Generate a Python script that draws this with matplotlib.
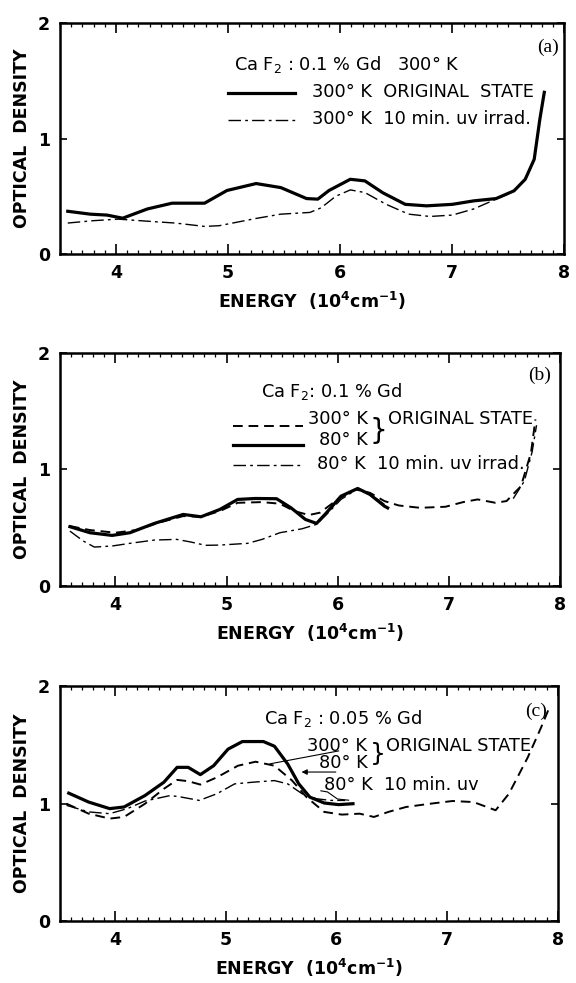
import matplotlib
matplotlib.use("Agg")
from matplotlib import pyplot as plt
from matplotlib.ticker import MultipleLocator

# panel (a): CaF2 0.1% Gd, 300 K
a_x_orig = [3.57, 3.77, 3.92, 4.06, 4.28, 4.5, 4.79, 4.99, 5.25, 5.47, 5.70, 5.80, 5.90,
            6.09, 6.22, 6.38, 6.58, 6.77, 7.0, 7.19, 7.39, 7.55, 7.65, 7.73, 7.78, 7.82]
a_y_orig = [0.37, 0.345, 0.337, 0.31, 0.39, 0.44, 0.44, 0.55, 0.61, 0.575, 0.48, 0.475, 0.55,
            0.647, 0.633, 0.53, 0.43, 0.417, 0.43, 0.46, 0.48, 0.547, 0.647, 0.82, 1.165, 1.40]
a_x_uv = [3.57, 3.79, 4.02, 4.34, 4.53, 4.79, 4.92, 5.25, 5.47, 5.73, 5.83, 5.96, 6.09,
          6.22, 6.41, 6.61, 6.80, 7.0, 7.19, 7.39, 7.5]
a_y_uv = [0.268, 0.288, 0.302, 0.28, 0.268, 0.239, 0.245, 0.308, 0.345, 0.36, 0.40, 0.50, 0.555,
          0.532, 0.43, 0.345, 0.325, 0.337, 0.39, 0.475, 0.52]

# panel (b): CaF2 0.1% Gd
b_x_300 = [3.59, 3.77, 4.0, 4.19, 4.39, 4.61, 4.77, 4.94, 5.10, 5.32, 5.48, 5.61, 5.74, 5.84,
           6.0, 6.16, 6.29, 6.42, 6.55, 6.74, 6.97, 7.13, 7.26, 7.42, 7.52, 7.65, 7.74, 7.78]
b_y_300 = [0.514, 0.48, 0.457, 0.48, 0.543, 0.6, 0.594, 0.643, 0.714, 0.72, 0.706, 0.643, 0.609, 0.629,
           0.743, 0.829, 0.8, 0.729, 0.691, 0.671, 0.68, 0.72, 0.743, 0.714, 0.729, 0.857, 1.143, 1.43]
b_x_80 = [3.59, 3.77, 3.97, 4.13, 4.35, 4.61, 4.77, 4.94, 5.10, 5.26, 5.45, 5.58, 5.71, 5.81,
          5.90, 6.03, 6.18, 6.29, 6.42, 6.45]
b_y_80 = [0.509, 0.457, 0.434, 0.457, 0.537, 0.614, 0.594, 0.657, 0.743, 0.751, 0.749, 0.671, 0.571, 0.537,
          0.629, 0.771, 0.837, 0.786, 0.686, 0.67]
b_x_uv = [3.59, 3.71, 3.81, 3.97, 4.13, 4.35, 4.55, 4.68, 4.81, 4.94, 5.19, 5.32, 5.48, 5.68,
          5.81, 5.90, 6.03, 6.18, 6.32, 6.42]
b_y_uv = [0.471, 0.386, 0.334, 0.343, 0.366, 0.394, 0.4, 0.377, 0.349, 0.351, 0.366, 0.4, 0.457, 0.491,
          0.529, 0.614, 0.743, 0.834, 0.771, 0.7]
b_x_uv_edge = [7.58, 7.68, 7.75, 7.79]
b_y_uv_edge = [0.75, 0.9, 1.15, 1.38]

# panel (c): CaF2 0.05% Gd
c_x_300 = [3.56, 3.76, 3.95, 4.08, 4.27, 4.44, 4.56, 4.66, 4.77, 4.92, 5.11, 5.27, 5.44, 5.60, 5.73,
           5.89, 6.05, 6.21, 6.34, 6.47, 6.63, 6.85, 7.05, 7.24, 7.44, 7.56, 7.73, 7.85, 7.93]
c_y_300 = [1.0, 0.915, 0.873, 0.887, 1.0, 1.127, 1.203, 1.192, 1.163, 1.225, 1.324, 1.358, 1.324, 1.197, 1.056,
           0.93, 0.907, 0.915, 0.887, 0.93, 0.972, 1.0, 1.023, 1.014, 0.944, 1.085, 1.394, 1.648, 1.83]
c_x_80 = [3.58, 3.76, 3.95, 4.08, 4.27, 4.44, 4.56, 4.66, 4.77, 4.89, 5.02, 5.15, 5.34, 5.44, 5.56,
          5.66, 5.76, 5.89, 6.02, 6.15]
c_y_80 = [1.09, 1.014, 0.958, 0.972, 1.07, 1.183, 1.31, 1.31, 1.248, 1.324, 1.465, 1.53, 1.53, 1.49, 1.338,
          1.169, 1.056, 1.006, 0.992, 1.0]
c_x_uv = [3.56, 3.76, 3.95, 4.11, 4.27, 4.5, 4.60, 4.76, 4.92, 5.08, 5.24, 5.44, 5.56, 5.69, 5.82, 5.95, 6.08]
c_y_uv = [0.986, 0.93, 0.915, 0.958, 1.023, 1.07, 1.056, 1.028, 1.085, 1.169, 1.183, 1.197, 1.169, 1.085,
          1.042, 1.028, 1.028]

x_ticks = [4, 5, 6, 7, 8]
y_ticks = [0, 1, 2]

SOLID = dict(color="black", lw=2.3, ls="-")
DASH = dict(color="black", lw=1.4, ls=(0, (5, 3)))
DASHDOT = dict(color="black", lw=1.0, ls=(0, (9, 3, 2, 3)))
TXT = dict(family="DejaVu Sans", fontsize=12.8, va="center")

fig = plt.figure(figsize=(5.76, 9.83), dpi=100)
boxes = [
    [0.104, 0.7416, 0.876, 0.235],
    [0.104, 0.4039, 0.868, 0.237],
    [0.104, 0.0631, 0.864, 0.2386],
]
axes = [fig.add_axes(b) for b in boxes]

for ax in axes:
    ax.set_xlim(3.5, 8)
    ax.set_ylim(0, 2)
    ax.set_xticks(x_ticks)
    ax.set_yticks(y_ticks)
    ax.xaxis.set_minor_locator(MultipleLocator(0.1))
    ax.tick_params(axis="x", which="major", direction="in", length=7, width=1.2,
                   top=True, bottom=True, labelsize=12.5, pad=7)
    ax.tick_params(axis="x", which="minor", direction="in", length=3, width=0.9,
                   top=True, bottom=True)
    ax.tick_params(axis="y", which="major", direction="in", length=5, width=1.2,
                   left=True, right=True, labelsize=12.5, pad=7)
    for lab in ax.get_xticklabels() + ax.get_yticklabels():
        lab.set_fontweight("bold")
    for sp in ax.spines.values():
        sp.set_linewidth(1.8)
    ax.set_ylabel("OPTICAL  DENSITY", fontsize=12.5, fontweight="bold", labelpad=5)
    ax.set_xlabel(r"ENERGY  (10$^{\mathbf{4}}$cm$^{\mathbf{-1}}$)", fontsize=12.5,
                  fontweight="bold", labelpad=6)

# (a)
ax = axes[0]
ax.plot(a_x_orig, a_y_orig, **SOLID)
ax.plot(a_x_uv, a_y_uv, **DASHDOT)
ax.text(5.05, 1.64, "Ca F$_2$ : 0.1 % Gd   300° K", **TXT)
ax.plot([5.0, 5.6], [1.39, 1.39], **SOLID)
ax.text(5.75, 1.40, "300° K  ORIGINAL  STATE", **TXT)
ax.plot([5.0, 5.6], [1.16, 1.16], **DASHDOT)
ax.text(5.75, 1.17, "300° K  10 min. uv irrad.", **TXT)
ax.text(7.95, 1.79, "(a)", family="Liberation Serif", fontsize=14, ha="right", va="center")

# (b)
ax = axes[1]
ax.plot(b_x_300, b_y_300, **DASH)
ax.plot(b_x_80, b_y_80, **SOLID)
ax.plot(b_x_uv, b_y_uv, **DASHDOT)
ax.plot(b_x_uv_edge, b_y_uv_edge, **DASHDOT)
ax.text(5.31, 1.67, "Ca F$_2$: 0.1 % Gd", **TXT)
ax.plot([5.06, 5.69], [1.37, 1.37], **DASH)
ax.text(6.27, 1.43, "300° K", ha="right", **TXT)
ax.plot([5.06, 5.69], [1.21, 1.21], **SOLID)
ax.text(6.27, 1.25, "80° K", ha="right", **TXT)
ax.text(6.29, 1.33, "}", family="DejaVu Sans", fontsize=20, va="center")
ax.text(6.45, 1.43, "ORIGINAL STATE", **TXT)
ax.plot([5.06, 5.69], [1.04, 1.04], **DASHDOT)
ax.text(5.81, 1.05, "80° K  10 min. uv irrad.", **TXT)
ax.text(7.92, 1.81, "(b)", family="Liberation Serif", fontsize=14, ha="right", va="center")

# (c)
ax = axes[2]
ax.plot(c_x_300, c_y_300, **DASH)
ax.plot(c_x_80, c_y_80, **SOLID)
ax.plot(c_x_uv, c_y_uv, **DASHDOT)
ax.text(5.35, 1.73, "Ca F$_2$ : 0.05 % Gd", **TXT)
ax.text(6.28, 1.49, "300° K", ha="right", **TXT)
ax.text(6.28, 1.35, "80° K", ha="right", **TXT)
ax.text(6.30, 1.42, "}", family="DejaVu Sans", fontsize=18, va="center")
ax.text(6.45, 1.49, "ORIGINAL STATE", **TXT)
ax.text(5.89, 1.16, "80° K  10 min. uv", **TXT)
ax.plot([6.02, 5.40], [1.45, 1.34], color="black", lw=0.8)
ax.annotate("", xy=(5.66, 1.27), xytext=(6.02, 1.27),
            arrowprops=dict(arrowstyle="-|>", color="black", lw=0.8, mutation_scale=8))
ax.plot([5.86, 5.92, 6.01, 6.11], [1.11, 1.10, 1.04, 1.03], color="black", lw=0.8)
ax.text(7.9, 1.79, "(c)", family="Liberation Serif", fontsize=14, ha="right", va="center")

fig.savefig("out.png", dpi=100)
